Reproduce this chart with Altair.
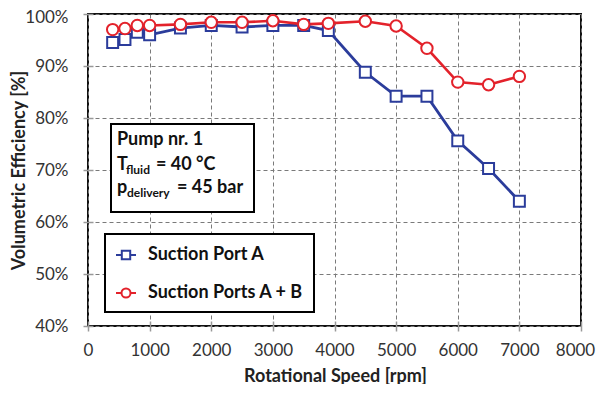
import altair as alt
import pandas as pd

rpm_a = [400, 600, 800, 1000, 1500, 2000, 2500, 3000, 3500, 3900, 4500, 5000, 5500, 6000, 6500, 7000]
eff_a = [94.5, 95.1, 96.5, 96.0, 97.3, 97.8, 97.5, 97.8, 97.8, 96.8, 88.8, 84.2, 84.2, 75.6, 70.3, 64.0]
rpm_ab = [400, 600, 800, 1000, 1500, 2000, 2500, 3000, 3500, 3900, 4500, 5000, 5500, 6000, 6500, 7000]
eff_ab = [97.0, 97.2, 97.8, 97.8, 98.0, 98.4, 98.4, 98.7, 98.0, 98.2, 98.6, 97.7, 93.4, 86.9, 86.4, 88.0]
series = ["Suction Port A", "Suction Ports A + B"]
colors = ["#2B3C9B", "#E3222B"]
legend_shapes = [
    "M-1,0H-0.42M0.42,0H1M-0.42,-0.42H0.42V0.42H-0.42Z",
    "M-1,0H-0.45M0.45,0H1M0.45,0A0.45,0.45 0 1,1 -0.45,0A0.45,0.45 0 1,1 0.45,0Z",
]
x_ticks = list(range(0, 8001, 500))
y_ticks = list(range(40, 101, 5))
note_lines = ["Pump nr. 1", "T", "fluid", "= 40 °C", "p", "delivery", "= 45 bar"]

df = pd.DataFrame({
    "rpm": rpm_a + rpm_ab,
    "eff": eff_a + eff_ab,
    "series": [series[0]] * len(rpm_a) + [series[1]] * len(rpm_ab),
})

FONT = "Lato"

x_enc = alt.X("rpm:Q", scale=alt.Scale(domain=[0, 8000], nice=False),
              axis=alt.Axis(values=x_ticks, title="Rotational Speed [rpm]",
                            labelExpr="datum.value % 1000 == 0 ? datum.label : ''",
                            format="d", labelOverlap=False, labelFlush=False,
                            labelOffset={"condition": {"test": "datum.value == 8000", "value": -6}, "value": 0},
                            gridOpacity={"condition": {"test": "datum.value % 1000 == 0", "value": 1}, "value": 0},
                            offset=-5, tickSize=10, labelPadding=11,
                            titleX=247, titleY=55, titleBaseline="middle", titleAnchor="middle"))
y_enc = alt.Y("eff:Q", scale=alt.Scale(domain=[40, 100], nice=False),
              axis=alt.Axis(values=y_ticks, title="Volumetric Efficiency [%]",
                            labelExpr="datum.value % 10 == 0 ? datum.value + '%' : ''",
                            labelOverlap=False, labelFlush=False,
                            labelOffset={"condition": {"test": "datum.value == 100", "value": 3}, "value": 0},
                            gridOpacity={"condition": {"test": "datum.value % 10 == 0", "value": 1}, "value": 0},
                            offset=-5, tickSize=10, labelPadding=15,
                            titleX=-74, titleY=156, titleBaseline="middle", titleAnchor="middle"))

legend = alt.Legend(title=None, orient="none", legendX=17, legendY=220,
                    fillColor="white", strokeColor="black", padding=10,
                    symbolOffset=0, labelOffset=11, rowPadding=18,
                    symbolSize=400, symbolStrokeWidth=2, symbolFillColor="white", symbolOpacity=1,
                    labelFontSize=18, labelFontWeight="bold", labelFont=FONT,
                    labelColor="#111", labelLimit=300)

base = alt.Chart(df)
line_a = base.transform_filter(alt.datum.series == series[0]).mark_line(
    strokeWidth=2.8, color=colors[0]).encode(x=x_enc, y=y_enc)
line_ab = base.transform_filter(alt.datum.series == series[1]).mark_line(
    strokeWidth=2.6, color=colors[1]).encode(x="rpm:Q", y="eff:Q")
pts_a = base.transform_filter(alt.datum.series == series[0]).mark_point(
    shape="square", filled=False, fill="white", fillOpacity=1, strokeWidth=2, size=120,
    opacity=1, color=colors[0]).encode(x="rpm:Q", y="eff:Q")
pts_ab = base.transform_filter(alt.datum.series == series[1]).mark_point(
    shape="circle", filled=False, fill="white", fillOpacity=1, strokeWidth=2, size=130,
    opacity=1, color=colors[1]).encode(x="rpm:Q", y="eff:Q")
legend_layer = base.mark_point(opacity=0, filled=False).encode(
    x="rpm:Q", y="eff:Q",
    color=alt.Color("series:N", scale=alt.Scale(domain=series, range=colors), legend=legend),
    shape=alt.Shape("series:N", scale=alt.Scale(domain=series, range=legend_shapes), legend=legend),
)

one = pd.DataFrame({"t": [note_lines[0]]})
box = alt.Chart(one).mark_rect(fill="white", stroke="black", strokeWidth=2).encode(
    x=alt.value(23), x2=alt.value(166), y=alt.value(110), y2=alt.value(198))


def txt(s, x, y, size):
    return alt.Chart(pd.DataFrame({"t": [s]})).mark_text(
        align="left", baseline="middle", font=FONT, fontWeight="bold", fontSize=size, color="#111"
    ).encode(x=alt.value(x), y=alt.value(y), text="t:N")


texts = [
    txt(note_lines[0], 29, 126, 18),
    txt(note_lines[1], 29, 151, 18),
    txt(note_lines[2], 38, 156, 12),
    txt(note_lines[3], 68, 151, 18),
    txt(note_lines[4], 29, 174, 18),
    txt(note_lines[5], 39, 179, 12),
    txt(note_lines[6], 89, 174, 18),
]

chart = alt.layer(line_a, line_ab, pts_a, pts_ab, legend_layer, box, *texts).properties(
    width=493, height=312,
    autosize=alt.AutoSizeParams(type="none"),
    padding={"left": 80, "top": 6, "right": 15, "bottom": 58},
).configure_view(
    stroke="#111", strokeWidth=2
).configure_legend(
    strokeWidth=2
).configure_axis(
    domain=False, grid=True, gridColor="#7a7a7a", gridDash=[4, 3], gridWidth=1,
    tickColor="#999", tickWidth=1.5,
    labelFont=FONT, labelFontSize=17, labelColor="#333",
    titleFont=FONT, titleFontSize=18, titleFontWeight="bold", titleColor="#222",
)

chart.save("out.html", embed_options={"renderer": "svg", "actions": False})
